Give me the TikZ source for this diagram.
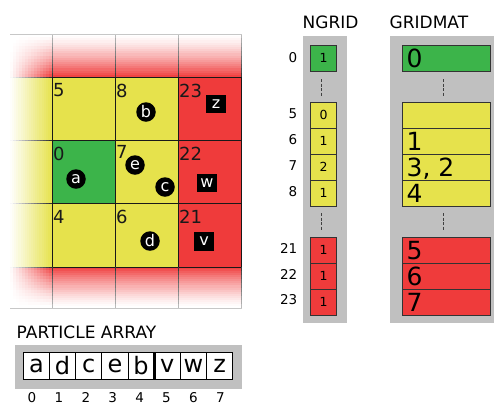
\documentclass[tikz,border=0pt]{standalone}
\usepackage{fontspec}
\setmainfont{DejaVu Sans}
\definecolor{cgreen}{HTML}{3CB44A}
\definecolor{cyellow}{HTML}{E6E24C}
\definecolor{cred}{HTML}{EF3B3B}
\definecolor{cgray}{HTML}{C0C0C0}
\newcommand{\fsz}[1]{\fontsize{#1}{#1}\selectfont}
\begin{document}
\begin{tikzpicture}[x=1pt,y=-1pt,
  gridline/.style={draw=black!90,line width=1pt},
  cellnum/.style={anchor=north west,inner sep=0pt,font=\fsz{18},text=black!90},
  particle/.style={circle,fill=black,text=white,inner sep=0pt,minimum size=19.5pt,font=\fsz{16}},
  sqpart/.style={rectangle,fill=black,text=white,inner sep=0pt,minimum width=19.5pt,minimum height=18.5pt,font=\fsz{16}},
  ngbox/.style={draw=black!80,line width=0.8pt,minimum width=26pt,minimum height=26pt,inner sep=0pt,font=\fsz{12.5}},
  gmbox/.style={draw=black!80,line width=0.8pt,minimum width=88pt,minimum height=26pt,inner sep=0pt},
  gmtext/.style={anchor=base west,inner sep=0pt,font=\fsz{25}},
  rowlab/.style={anchor=east,inner sep=0pt,font=\fsz{13.5}},
  title/.style={anchor=base west,inner sep=0pt,font=\fsz{17}},
  pabox/.style={draw=black,line width=0.8pt,fill=white,minimum width=26.17pt,minimum height=26.6pt,inner sep=0pt,font=\fsz{24}},
  idx/.style={anchor=north,inner sep=0pt,font=\fsz{13.5}},
  sep/.style={draw=black!75,line width=1pt,dash pattern=on 3pt off 1.5pt}]
\useasboundingbox (0,0) rectangle (494,405);
\fill[white] (0,0) rectangle (494,405);

% ---------------- grid: faded border (stepped gradients) ----------------
\foreach \k in {0,...,19} {
  \pgfmathtruncatemacro{\p}{100*((\k+0.5)/20)^1.4}
  \pgfmathtruncatemacro{\q}{100*((19.5-\k)/20)^1.4}
  \pgfmathtruncatemacro{\r}{(\k+0.5)*5}
  \pgfmathsetmacro{\ya}{34+\k*2.15}
  \pgfmathsetmacro{\yb}{267+\k*2.05}
  \pgfmathsetmacro{\xa}{10+\k*2.1}
  \fill[cred!\p!white] (52,\ya) rectangle (241,\ya+2.5);
  \fill[cred!\q!white] (52,\yb) rectangle (241,\yb+2.4);
  \fill[cyellow!\r!white] (\xa,77) rectangle (\xa+2.45,267);
}
\foreach \i in {0,...,13} {
  \foreach \j in {0,...,13} {
    \pgfmathtruncatemacro{\pa}{(\i+0.5)/14*((\j+0.5)/14)^1.4*100}
    \pgfmathtruncatemacro{\pb}{(\i+0.5)/14*((13.5-\j)/14)^1.4*100}
    \pgfmathsetmacro{\xc}{10+\i*3}
    \pgfmathsetmacro{\yc}{34+\j*3.071}
    \pgfmathsetmacro{\yd}{267+\j*2.929}
    \fill[cred!\pa!white] (\xc,\yc) rectangle (\xc+3.3,\yc+3.4);
    \fill[cred!\pb!white] (\xc,\yd) rectangle (\xc+3.3,\yd+3.25);
  }
}
% core cells
\fill[cyellow] (52,77) rectangle (178,267);
\fill[cgreen] (52,140) rectangle (115,203);
\fill[cred] (178,77) rectangle (241,267);
% grid lines
\foreach \y in {77,140,203,267} {
  \draw[gridline] (52,\y) -- (241,\y);
  \foreach \s in {0,...,13} {
    \pgfmathtruncatemacro{\g}{(\s+0.5)/14*85}
    \draw[draw=black!\g!white,line width=1pt] ({10+\s*3},\y) -- ({13.3+\s*3},\y);
  }
}
\foreach \x in {52,115,178,241} {
  \draw[gridline] (\x,77) -- (\x,267);
  \foreach \s in {0,...,9} {
    \pgfmathtruncatemacro{\g}{25+(\s+0.5)*5.5}
    \pgfmathtruncatemacro{\h}{80-(\s+0.5)*5.5}
    \draw[draw=black!\g!white,line width=0.8pt] (\x,{34+\s*4.3}) -- (\x,{38.5+\s*4.3});
    \draw[draw=black!\h!white,line width=0.8pt] (\x,{267+\s*4.1}) -- (\x,{271.3+\s*4.1});
  }
}
\draw[draw=black!22,line width=0.8pt] (10,34) -- (241.5,34);
\draw[draw=black!22,line width=0.8pt] (10,308) -- (241.5,308);

% cell numbers
\node[cellnum] (c5)  at (53,83.5) {5};
\node[cellnum] (c8)  at (116,83.5) {8};
\node[cellnum] (c23) at (179,83.5) {23};
\node[cellnum] (c0)  at (53,147) {0};
\node[cellnum] (c7)  at (116,145.5) {7};
\node[cellnum] (c22) at (179,146.5) {22};
\node[cellnum] (c4)  at (53,210) {4};
\node[cellnum] (c6)  at (116,210) {6};
\node[cellnum] (c21) at (179,210) {21};

% particles
\node[particle] (pa) at (76,179) {a};
\node[particle] (pb) at (146,112) {b};
\node[particle] (pe) at (135,165) {e};
\node[particle] (pc) at (165,187) {c};
\node[particle] (pd) at (150,241) {d};
\node[sqpart] (pz) at (216,104) {z};
\node[sqpart] (pw) at (207,183) {w};
\node[sqpart] (pv) at (204,241.5) {v};

% ---------------- NGRID ----------------
\fill[cgray] (303,36) rectangle (347,323);
\node[title] (tng) at (302.5,28.3) {NGRID};
\node[ngbox,fill=cgreen]  (ng0)  at (323.7,58)  {1};
\node[ngbox,fill=cyellow] (ng5)  at (323.7,115) {0};
\node[ngbox,fill=cyellow] (ng6)  at (323.7,141) {1};
\node[ngbox,fill=cyellow] (ng7)  at (323.7,167) {2};
\node[ngbox,fill=cyellow] (ng8)  at (323.7,193) {1};
\node[ngbox,fill=cred]    (ng21) at (323.7,250) {1};
\node[ngbox,fill=cred]    (ng22) at (323.7,276) {1};
\node[ngbox,fill=cred]    (ng23) at (323.7,302) {1};
\node[rowlab] (l0)  at (297.5,58)  {0};
\node[rowlab] (l5)  at (297.5,114) {5};
\node[rowlab] (l6)  at (297.5,140) {6};
\node[rowlab] (l7)  at (297.5,166) {7};
\node[rowlab] (l8)  at (297.5,192) {8};
\node[rowlab] (l21) at (297.5,248) {21};
\node[rowlab] (l22) at (297.5,274) {22};
\node[rowlab] (l23) at (297.5,300) {23};
\coordinate (nga) at (321,79);
\coordinate (ngb) at (321,97);
\coordinate (ngc) at (321,213);
\coordinate (ngd) at (321,231);
\draw[sep] (nga) -- (ngb);
\draw[sep] (ngc) -- (ngd);

% ---------------- GRIDMAT ----------------
\fill[cgray] (390,36) rectangle (496,323);
\node[title] (tgm) at (389.5,28.3) {GRIDMAT};
\node[gmbox,fill=cgreen]  (gm0)  at (446.4,58)  {};
\node[gmbox,fill=cyellow] (gm5)  at (446.4,115) {};
\node[gmbox,fill=cyellow] (gm6)  at (446.4,141) {};
\node[gmbox,fill=cyellow] (gm7)  at (446.4,167) {};
\node[gmbox,fill=cyellow] (gm8)  at (446.4,193) {};
\node[gmbox,fill=cred]    (gm21) at (446.4,250) {};
\node[gmbox,fill=cred]    (gm22) at (446.4,276) {};
\node[gmbox,fill=cred]    (gm23) at (446.4,302) {};
\node[gmtext] (tg0)  at (406.5,67.2)  {0};
\node[gmtext] (tg6)  at (406.5,150.2) {1};
\node[gmtext] (tg7)  at (406.5,176.2) {3, 2};
\node[gmtext] (tg8)  at (406.5,202.2) {4};
\node[gmtext] (tg21) at (406.5,259.2) {5};
\node[gmtext] (tg22) at (406.5,285.2) {6};
\node[gmtext] (tg23) at (406.5,311.2) {7};
\coordinate (gma) at (443.7,79);
\coordinate (gmb) at (443.7,97);
\coordinate (gmc) at (443.7,213);
\coordinate (gmd) at (443.7,231);
\draw[sep] (gma) -- (gmb);
\draw[sep] (gmc) -- (gmd);

% ---------------- PARTICLE ARRAY ----------------
\node[title] (tpa) at (16.5,338.3) {PARTICLE ARRAY};
\fill[cgray] (15,345) rectangle (242,389);
\foreach \l [count=\i from 0] in {a,d,c,e,b,v,w,z} {
  \node[pabox] (arr\i) at ({23.3+26.17*(\i+0.5)},366) {\l};
  \node[idx] (ix\i) at ({32+26.9*\i},392) {\i};
}
\draw[line width=2.6pt] (arr4.north east) -- (arr4.south east);
\end{tikzpicture}
\end{document}
